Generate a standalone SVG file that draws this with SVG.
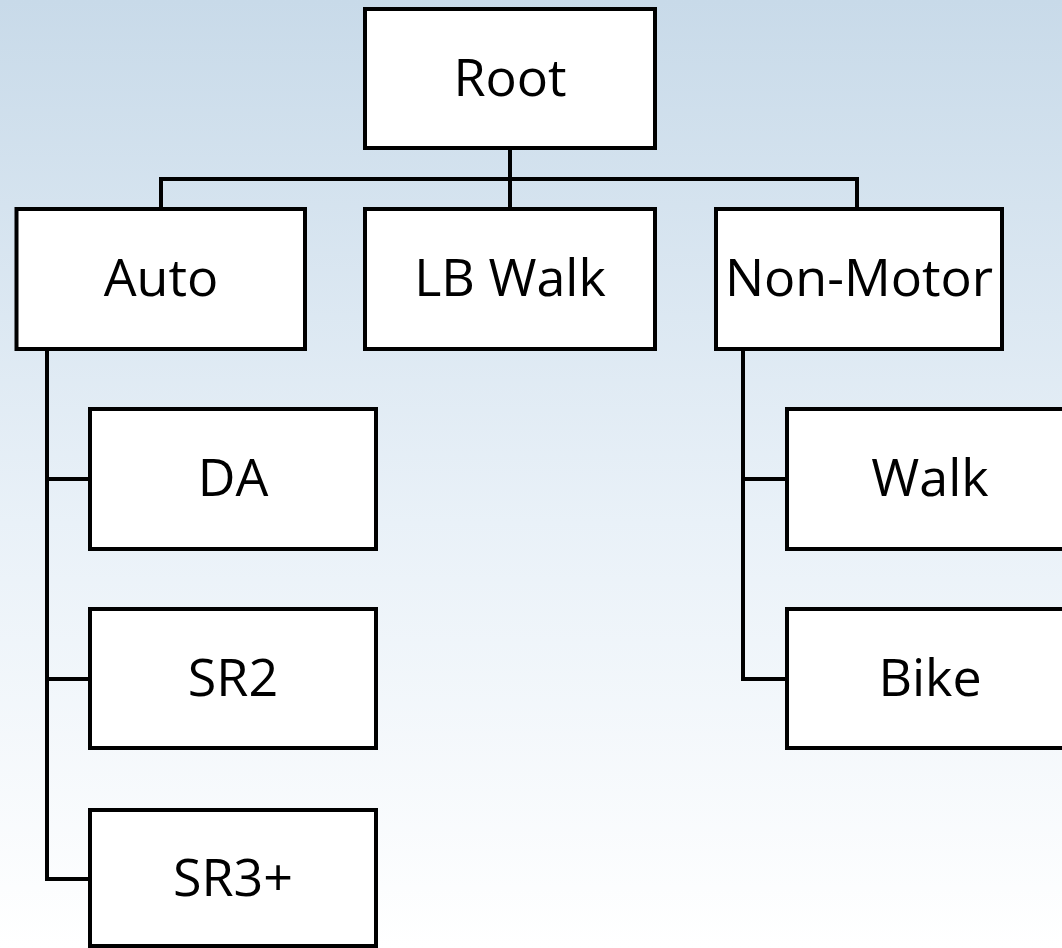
<svg xmlns="http://www.w3.org/2000/svg" width="1062" height="948" viewBox="0 0 1062 948">
  <defs>
    <linearGradient id="bg" x1="0" y1="0" x2="0" y2="1">
      <stop offset="0" stop-color="#c8dae9"/>
      <stop offset="0.55" stop-color="#e9f1f8"/>
      <stop offset="1" stop-color="#ffffff"/>
    </linearGradient>
  </defs>
  <style>
    .box { fill: #ffffff; stroke: #000000; stroke-width: 4; }
    .lbl { font-family: "Open Sans", "Liberation Sans", sans-serif; font-size: 52px; fill: #000000; text-anchor: middle; }
    .conn { fill: none; stroke: #000000; stroke-width: 4; }
  </style>
  <rect x="0" y="0" width="1062" height="948" fill="url(#bg)"/>

  <g id="connectors">
    <path class="conn" d="M510 148 V179"/>
    <path class="conn" d="M161 209 V179 H857 V209"/>
    <path class="conn" d="M510 179 V209"/>
    <path class="conn" d="M47 349 V879 H90"/>
    <path class="conn" d="M47 479 H90"/>
    <path class="conn" d="M47 679 H90"/>
    <path class="conn" d="M743 349 V679 H787"/>
    <path class="conn" d="M743 479 H787"/>
  </g>

  <g id="root">
    <rect class="box" x="365" y="9" width="290" height="139"/>
    <text class="lbl" x="510" y="96">Root</text>
  </g>
  <g id="auto">
    <rect class="box" x="16.5" y="209" width="288.5" height="140"/>
    <text class="lbl" x="161" y="296">Auto</text>
  </g>
  <g id="lbwalk">
    <rect class="box" x="365" y="209" width="290" height="140"/>
    <text class="lbl" x="510" y="296">LB Walk</text>
  </g>
  <g id="nonmotor">
    <rect class="box" x="716" y="209" width="286" height="140"/>
    <text class="lbl" x="859" y="296">Non-Motor</text>
  </g>
  <g id="da">
    <rect class="box" x="90" y="409" width="286" height="140"/>
    <text class="lbl" x="233" y="496">DA</text>
  </g>
  <g id="sr2">
    <rect class="box" x="90" y="609" width="286" height="139"/>
    <text class="lbl" x="233" y="696">SR2</text>
  </g>
  <g id="sr3plus">
    <rect class="box" x="90" y="810" width="286" height="136"/>
    <text class="lbl" x="233" y="896">SR3+</text>
  </g>
  <g id="walk">
    <rect class="box" x="787" y="409" width="290" height="140"/>
    <text class="lbl" x="930" y="496">Walk</text>
  </g>
  <g id="bike">
    <rect class="box" x="787" y="609" width="290" height="139"/>
    <text class="lbl" x="930" y="696">Bike</text>
  </g>
</svg>
